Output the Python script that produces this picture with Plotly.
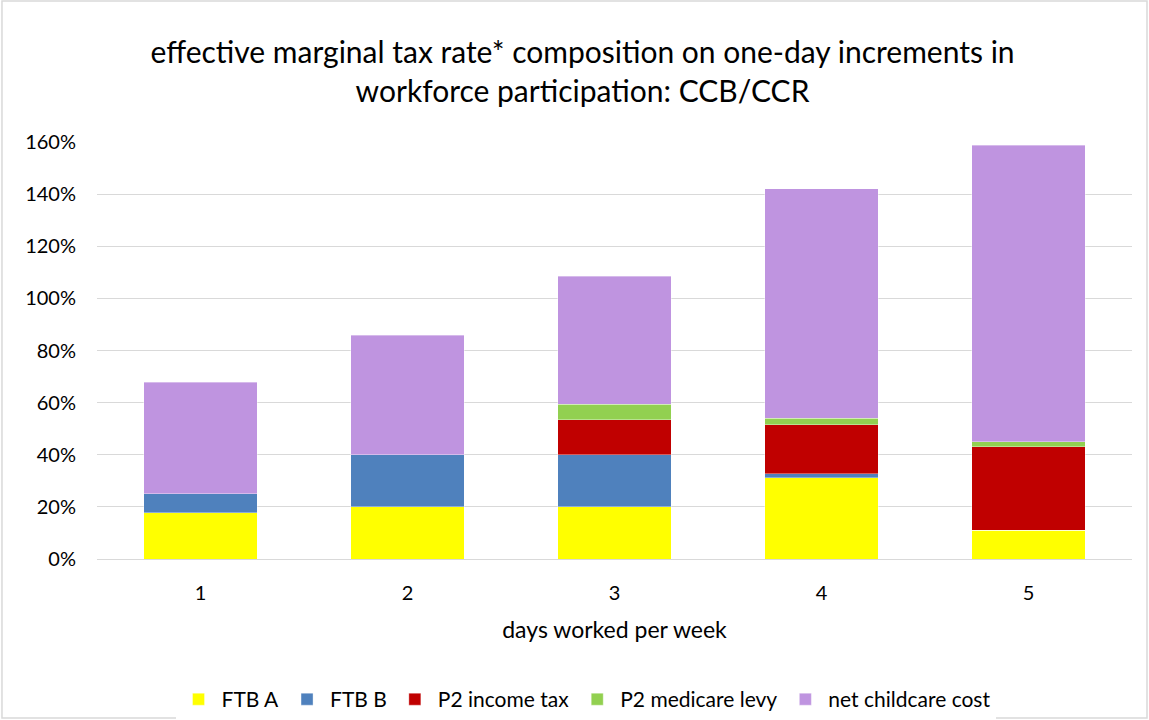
import plotly.graph_objects as go

days = ["1", "2", "3", "4", "5"]
ftb_a = [0.177, 0.200, 0.200, 0.311, 0.110]
ftb_b = [0.074, 0.200, 0.200, 0.017, 0.000]
p2_income_tax = [0.000, 0.000, 0.134, 0.188, 0.321]
p2_medicare = [0.000, 0.000, 0.060, 0.025, 0.019]
net_childcare = [0.427, 0.459, 0.491, 0.880, 1.138]

series = [
    ("FTB A", ftb_a, "#FFFF00"),
    ("FTB B", ftb_b, "#4F81BD"),
    ("P2 income tax", p2_income_tax, "#C00000"),
    ("P2 medicare levy", p2_medicare, "#92D050"),
    ("net childcare cost", net_childcare, "#BF94E0"),
]

FONT = "Lato, Calibri, Carlito, sans-serif"

fig = go.Figure()
for name, vals, color in series:
    fig.add_trace(go.Bar(
        x=days, y=vals, name=name,
        marker=dict(color=color, line=dict(color="rgba(255,255,255,0.6)", width=0.6)),
    ))

fig.update_layout(
    barmode="stack",
    bargap=0.454,
    width=1149, height=720,
    paper_bgcolor="white", plot_bgcolor="white",
    font=dict(family=FONT, color="#000000", size=20),
    title=dict(
        text="effective marginal tax rate* composition on one-day increments in<br>workforce participation: CCB/CCR",
        x=0.507, xanchor="center", y=0.913, yanchor="top",
        font=dict(size=30, family=FONT, color="#000000"),
    ),
    margin=dict(l=97, r=17, t=142, b=161, autoexpand=False),
    xaxis=dict(
        title=dict(text="days worked per week", font=dict(size=23), standoff=18),
        tickfont=dict(size=20), showgrid=False, showline=False, ticks="",
        ticklabelstandoff=20,
    ),
    yaxis=dict(
        range=[0, 1.6], dtick=0.2, tickformat=".0%",
        tickfont=dict(size=20),
        showgrid=True, gridcolor="#D9D9D9", gridwidth=1.3,
        zeroline=True, zerolinecolor="#D9D9D9", zerolinewidth=1.3,
        showline=False, ticks="", ticklabelstandoff=20,
    ),
    legend=dict(
        orientation="h", x=0.472, xanchor="center", y=-0.337, yanchor="middle",
        font=dict(size=21), traceorder="normal", itemwidth=36,
    ),
    shapes=[dict(type="rect", xref="paper", yref="paper",
                 x0=-0.0918, x1=1.0145, y0=-0.381, y1=1.338,
                 line=dict(color="#D9D9D9", width=1.5))],
)

fig.write_html("out.html", config={"displayModeBar": False},
               post_script="document.body.style.margin='0px';")
